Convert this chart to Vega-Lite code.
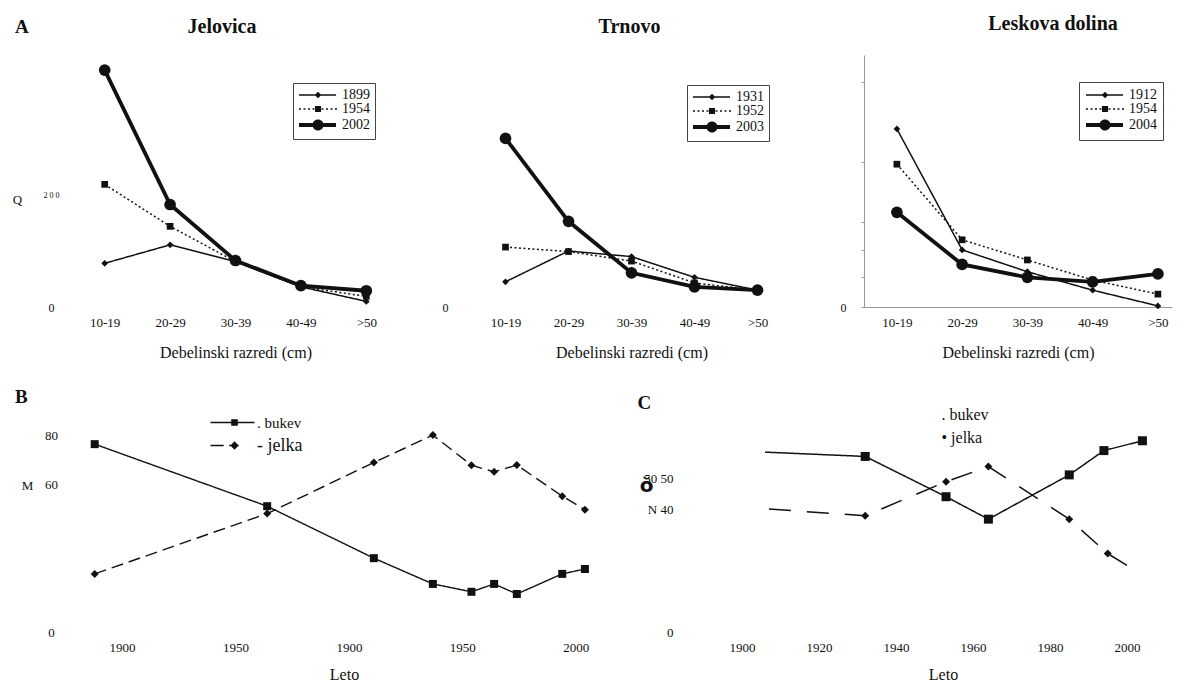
{
  "$schema": "https://vega.github.io/schema/vega-lite/v6.json",
  "background": "white",
  "padding": {"left": 12, "top": 14, "right": 5, "bottom": 2},
  "spacing": 28,
  "resolve": {"scale": {"x": "independent", "y": "independent", "strokeDash": "independent", "shape": "independent"}, "legend": {"strokeDash": "independent", "shape": "independent"}},
  "config": {
    "font": "Liberation Serif",
    "view": {"stroke": null},
    "axis": {"grid": false, "domain": false, "ticks": false, "labelFont": "Liberation Serif", "titleFont": "Liberation Serif", "labelColor": "#111", "titleColor": "#111", "titleFontWeight": "normal", "labelFontSize": 13, "titleFontSize": 16, "domainColor": "#999", "tickColor": "#999", "labelAngle": 0},
    "legend": {"labelFont": "Liberation Serif", "labelColor": "#111", "labelFontSize": 14},
    "title": {"font": "Liberation Serif", "fontSize": 20, "fontWeight": "bold", "color": "#111", "frame": "group"},
    "line": {"color": "#111"},
    "point": {"color": "#111", "filled": true, "opacity": 1}
  },
  "vconcat": [
    {
      "title": {"text": "A", "anchor": "start", "frame": "group", "dx": -57, "dy": 27, "fontSize": 19},
      "bounds": "flush",
      "spacing": 75,
      "resolve": {"scale": {"x": "independent", "y": "independent", "strokeDash": "independent", "shape": "independent"}, "legend": {"strokeDash": "independent", "shape": "independent"}},
      "hconcat": [
        {
          "width": 327, "height": 252,
          "title": {"text": "Jelovica", "anchor": "middle", "dx": -13.5, "offset": 18},
          "data": {"values": [
            {"razred": "10-19", "series": "1899", "N": 78},
            {"razred": "20-29", "series": "1899", "N": 111},
            {"razred": "30-39", "series": "1899", "N": 81},
            {"razred": "40-49", "series": "1899", "N": 36},
            {"razred": ">50", "series": "1899", "N": 10},
            {"razred": "10-19", "series": "1954", "N": 219},
            {"razred": "20-29", "series": "1954", "N": 144},
            {"razred": "30-39", "series": "1954", "N": 81},
            {"razred": "40-49", "series": "1954", "N": 36},
            {"razred": ">50", "series": "1954", "N": 19},
            {"razred": "10-19", "series": "2002", "N": 423},
            {"razred": "20-29", "series": "2002", "N": 183},
            {"razred": "30-39", "series": "2002", "N": 83},
            {"razred": "40-49", "series": "2002", "N": 38},
            {"razred": ">50", "series": "2002", "N": 29}
          ]},
          "encoding": {
            "x": {"field": "razred", "type": "ordinal", "sort": ["10-19", "20-29", "30-39", "40-49", ">50"], "scale": {"type": "point", "padding": 0.5},
                  "axis": {"title": "Debelinski razredi (cm)", "labelPadding": 9, "titlePadding": 15}},
            "y": {"field": "N", "type": "quantitative", "scale": {"domain": [0, 450], "nice": false},
                  "axis": {"values": [0, 200], "labelExpr": "datum.value == 200 ? '2 0 0' : '0'", "labelFontSize": {"condition": {"test": "datum.value == 200", "value": 8}, "value": 12}, "labelAlign": "center", "labelPadding": 21,
                           "title": "Q", "titleAngle": 0, "titleX": -55, "titleY": 144, "titleFontSize": 13, "titleBaseline": "middle", "titleAlign": "center"}}
          },
          "layer": [
            {"transform": [{"filter": "datum.series != '2002'"}], "mark": {"type": "line", "strokeWidth": 1.5},
             "encoding": {"strokeDash": {"field": "series", "type": "nominal", "scale": {"domain": ["1899", "1954", "2002"], "range": [[1, 0], [2, 2.5], [1, 0]]},
               "legend": {"orient": "none", "legendX": 221, "legendY": 28, "title": null, "strokeColor": "#444", "fillColor": "white", "padding": 5, "rowPadding": 0, "symbolSize": 144, "labelOffset": 30, "labelFontSize": 14, "symbolOpacity": 1, "symbolFillColor": "#111", "symbolStrokeColor": "#111"}}}},
            {"transform": [{"filter": "datum.series == '2002'"}], "mark": {"type": "line", "strokeWidth": 3.8}, "encoding": {}},
            {"transform": [{"filter": "datum.series == '1899'"}], "mark": {"type": "point", "shape": "diamond", "size": 45}},
            {"transform": [{"filter": "datum.series == '1954'"}], "mark": {"type": "point", "shape": "square", "size": 45}},
            {"transform": [{"filter": "datum.series == '2002'"}], "mark": {"type": "point", "shape": "circle", "size": 137}},
            {"mark": {"type": "point", "filled": false, "fill": "#111", "stroke": "#111", "strokeWidth": 1.5, "opacity": 0},
             "encoding": {
               "shape": {"field": "series", "type": "nominal", "scale": {"domain": ["1899", "1954", "2002"], "range": ["M-1,-0.12L5.17,-0.12L5.17,0.12L-1,0.12ZM2.17,-0.55L2.72,0L2.17,0.55L1.62,0Z", "M-1,-0.12h0.33v0.24h-0.33ZM-0.25,-0.12h0.33v0.24h-0.33ZM0.5,-0.12h0.33v0.24h-0.33ZM1.25,-0.12h0.33v0.24h-0.33ZM2,-0.12h0.33v0.24h-0.33ZM2.75,-0.12h0.33v0.24h-0.33ZM3.5,-0.12h0.33v0.24h-0.33ZM4.25,-0.12h0.33v0.24h-0.33ZM5,-0.12h0.33v0.24h-0.33ZM1.67,-0.5L2.67,-0.5L2.67,0.5L1.67,0.5Z", "M-1,-0.32L5.17,-0.32L5.17,0.32L-1,0.32ZM1.25,0A0.92,0.92,0,1,1,3.09,0A0.92,0.92,0,1,1,1.25,0Z"]},
                 "legend": {"orient": "none", "legendX": 221, "legendY": 28, "title": null, "strokeColor": "#444", "fillColor": "white", "padding": 5, "rowPadding": 0, "symbolSize": 144, "labelOffset": 30, "labelFontSize": 14, "symbolOpacity": 1, "symbolFillColor": "#111", "symbolStrokeColor": "#111"}},
               "strokeDash": {"field": "series", "type": "nominal", "scale": {"domain": ["1899", "1954", "2002"], "range": [[1, 0], [2, 2.5], [1, 0]]},
                 "legend": {"orient": "none", "legendX": 221, "legendY": 28, "title": null, "strokeColor": "#444", "fillColor": "white", "padding": 5, "rowPadding": 0, "symbolSize": 144, "labelOffset": 30, "labelFontSize": 14, "symbolOpacity": 1, "symbolFillColor": "#111", "symbolStrokeColor": "#111"}}}}
          ]
        },
        {
          "width": 315, "height": 252,
          "title": {"text": "Trnovo", "anchor": "middle", "dx": -2, "offset": 18},
          "data": {"values": [
            {"razred": "10-19", "series": "1931", "N": 45},
            {"razred": "20-29", "series": "1931", "N": 100},
            {"razred": "30-39", "series": "1931", "N": 90},
            {"razred": "40-49", "series": "1931", "N": 53},
            {"razred": ">50", "series": "1931", "N": 30},
            {"razred": "10-19", "series": "1952", "N": 107},
            {"razred": "20-29", "series": "1952", "N": 99},
            {"razred": "30-39", "series": "1952", "N": 82},
            {"razred": "40-49", "series": "1952", "N": 43},
            {"razred": ">50", "series": "1952", "N": 30},
            {"razred": "10-19", "series": "2003", "N": 301},
            {"razred": "20-29", "series": "2003", "N": 153},
            {"razred": "30-39", "series": "2003", "N": 61},
            {"razred": "40-49", "series": "2003", "N": 36},
            {"razred": ">50", "series": "2003", "N": 30}
          ]},
          "encoding": {
            "x": {"field": "razred", "type": "ordinal", "sort": ["10-19", "20-29", "30-39", "40-49", ">50"], "scale": {"type": "point", "padding": 0.5},
                  "axis": {"title": "Debelinski razredi (cm)", "labelPadding": 9, "titlePadding": 15}},
            "y": {"field": "N", "type": "quantitative", "scale": {"domain": [0, 450], "nice": false},
                  "axis": {"values": [0], "labelAlign": "center", "labelPadding": 29, "labelFontSize": 12, "title": null}}
          },
          "layer": [
            {"transform": [{"filter": "datum.series != '2003'"}], "mark": {"type": "line", "strokeWidth": 1.5},
             "encoding": {"strokeDash": {"field": "series", "type": "nominal", "scale": {"domain": ["1931", "1952", "2003"], "range": [[1, 0], [2, 2.5], [1, 0]]},
               "legend": {"orient": "none", "legendX": 213, "legendY": 30, "title": null, "strokeColor": "#444", "fillColor": "white", "padding": 5, "rowPadding": 0, "symbolSize": 144, "labelOffset": 30, "labelFontSize": 14, "symbolOpacity": 1, "symbolFillColor": "#111", "symbolStrokeColor": "#111"}}}},
            {"transform": [{"filter": "datum.series == '2003'"}], "mark": {"type": "line", "strokeWidth": 3.8}, "encoding": {}},
            {"transform": [{"filter": "datum.series == '1931'"}], "mark": {"type": "point", "shape": "diamond", "size": 45}},
            {"transform": [{"filter": "datum.series == '1952'"}], "mark": {"type": "point", "shape": "square", "size": 45}},
            {"transform": [{"filter": "datum.series == '2003'"}], "mark": {"type": "point", "shape": "circle", "size": 137}},
            {"mark": {"type": "point", "filled": false, "fill": "#111", "stroke": "#111", "strokeWidth": 1.5, "opacity": 0},
             "encoding": {
               "shape": {"field": "series", "type": "nominal", "scale": {"domain": ["1931", "1952", "2003"], "range": ["M-1,-0.12L5.17,-0.12L5.17,0.12L-1,0.12ZM2.17,-0.55L2.72,0L2.17,0.55L1.62,0Z", "M-1,-0.12h0.33v0.24h-0.33ZM-0.25,-0.12h0.33v0.24h-0.33ZM0.5,-0.12h0.33v0.24h-0.33ZM1.25,-0.12h0.33v0.24h-0.33ZM2,-0.12h0.33v0.24h-0.33ZM2.75,-0.12h0.33v0.24h-0.33ZM3.5,-0.12h0.33v0.24h-0.33ZM4.25,-0.12h0.33v0.24h-0.33ZM5,-0.12h0.33v0.24h-0.33ZM1.67,-0.5L2.67,-0.5L2.67,0.5L1.67,0.5Z", "M-1,-0.32L5.17,-0.32L5.17,0.32L-1,0.32ZM1.25,0A0.92,0.92,0,1,1,3.09,0A0.92,0.92,0,1,1,1.25,0Z"]},
                 "legend": {"orient": "none", "legendX": 213, "legendY": 30, "title": null, "strokeColor": "#444", "fillColor": "white", "padding": 5, "rowPadding": 0, "symbolSize": 144, "labelOffset": 30, "labelFontSize": 14, "symbolOpacity": 1, "symbolFillColor": "#111", "symbolStrokeColor": "#111"}},
               "strokeDash": {"field": "series", "type": "nominal", "scale": {"domain": ["1931", "1952", "2003"], "range": [[1, 0], [2, 2.5], [1, 0]]},
                 "legend": {"orient": "none", "legendX": 213, "legendY": 30, "title": null, "strokeColor": "#444", "fillColor": "white", "padding": 5, "rowPadding": 0, "symbolSize": 144, "labelOffset": 30, "labelFontSize": 14, "symbolOpacity": 1, "symbolFillColor": "#111", "symbolStrokeColor": "#111"}}}}
          ]
        },
        {
          "width": 308, "height": 252,
          "title": {"text": "Leskova dolina", "anchor": "middle", "dx": 35, "offset": 21},
          "data": {"values": [
            {"razred": "10-19", "series": "1912", "N": 318},
            {"razred": "20-29", "series": "1912", "N": 102},
            {"razred": "30-39", "series": "1912", "N": 63},
            {"razred": "40-49", "series": "1912", "N": 30},
            {"razred": ">50", "series": "1912", "N": 2},
            {"razred": "10-19", "series": "1954", "N": 255},
            {"razred": "20-29", "series": "1954", "N": 120},
            {"razred": "30-39", "series": "1954", "N": 84},
            {"razred": "40-49", "series": "1954", "N": 48},
            {"razred": ">50", "series": "1954", "N": 23},
            {"razred": "10-19", "series": "2004", "N": 169},
            {"razred": "20-29", "series": "2004", "N": 76},
            {"razred": "30-39", "series": "2004", "N": 53},
            {"razred": "40-49", "series": "2004", "N": 45},
            {"razred": ">50", "series": "2004", "N": 59}
          ]},
          "encoding": {
            "x": {"field": "razred", "type": "ordinal", "sort": ["10-19", "20-29", "30-39", "40-49", ">50"], "scale": {"type": "point", "padding": 0.36, "align": 0.7},
                  "axis": {"title": "Debelinski razredi (cm)", "labelPadding": 9, "titlePadding": 15, "domain": true}},
            "y": {"field": "N", "type": "quantitative", "scale": {"domain": [0, 450], "nice": false},
                  "axis": {"values": [0, 54, 102, 152, 259, 402], "labelExpr": "datum.value == 0 ? '0' : ''", "domain": true, "ticks": true, "tickSize": 3, "labelAlign": "center", "labelPadding": 18, "labelFontSize": 12, "title": null}}
          },
          "layer": [
            {"transform": [{"filter": "datum.series != '2004'"}], "mark": {"type": "line", "strokeWidth": 1.5},
             "encoding": {"strokeDash": {"field": "series", "type": "nominal", "scale": {"domain": ["1912", "1954", "2004"], "range": [[1, 0], [2, 2.5], [1, 0]]},
               "legend": {"orient": "none", "legendX": 215, "legendY": 27, "title": null, "strokeColor": "#444", "fillColor": "white", "padding": 6, "rowPadding": 0, "symbolSize": 144, "labelOffset": 30, "labelFontSize": 14, "symbolOpacity": 1, "symbolFillColor": "#111", "symbolStrokeColor": "#111"}}}},
            {"transform": [{"filter": "datum.series == '2004'"}], "mark": {"type": "line", "strokeWidth": 3.8}, "encoding": {}},
            {"transform": [{"filter": "datum.series == '1912'"}], "mark": {"type": "point", "shape": "diamond", "size": 45}},
            {"transform": [{"filter": "datum.series == '1954'"}], "mark": {"type": "point", "shape": "square", "size": 45}},
            {"transform": [{"filter": "datum.series == '2004'"}], "mark": {"type": "point", "shape": "circle", "size": 137}},
            {"mark": {"type": "point", "filled": false, "fill": "#111", "stroke": "#111", "strokeWidth": 1.5, "opacity": 0},
             "encoding": {
               "shape": {"field": "series", "type": "nominal", "scale": {"domain": ["1912", "1954", "2004"], "range": ["M-1,-0.12L5.17,-0.12L5.17,0.12L-1,0.12ZM2.17,-0.55L2.72,0L2.17,0.55L1.62,0Z", "M-1,-0.12h0.33v0.24h-0.33ZM-0.25,-0.12h0.33v0.24h-0.33ZM0.5,-0.12h0.33v0.24h-0.33ZM1.25,-0.12h0.33v0.24h-0.33ZM2,-0.12h0.33v0.24h-0.33ZM2.75,-0.12h0.33v0.24h-0.33ZM3.5,-0.12h0.33v0.24h-0.33ZM4.25,-0.12h0.33v0.24h-0.33ZM5,-0.12h0.33v0.24h-0.33ZM1.67,-0.5L2.67,-0.5L2.67,0.5L1.67,0.5Z", "M-1,-0.32L5.17,-0.32L5.17,0.32L-1,0.32ZM1.25,0A0.92,0.92,0,1,1,3.09,0A0.92,0.92,0,1,1,1.25,0Z"]},
                 "legend": {"orient": "none", "legendX": 215, "legendY": 27, "title": null, "strokeColor": "#444", "fillColor": "white", "padding": 6, "rowPadding": 0, "symbolSize": 144, "labelOffset": 30, "labelFontSize": 14, "symbolOpacity": 1, "symbolFillColor": "#111", "symbolStrokeColor": "#111"}},
               "strokeDash": {"field": "series", "type": "nominal", "scale": {"domain": ["1912", "1954", "2004"], "range": [[1, 0], [2, 2.5], [1, 0]]},
                 "legend": {"orient": "none", "legendX": 215, "legendY": 27, "title": null, "strokeColor": "#444", "fillColor": "white", "padding": 6, "rowPadding": 0, "symbolSize": 144, "labelOffset": 30, "labelFontSize": 14, "symbolOpacity": 1, "symbolFillColor": "#111", "symbolStrokeColor": "#111"}}}}
          ]
        }
      ]
    },
    {
      "bounds": "flush",
      "spacing": 109.5,
      "resolve": {"scale": {"x": "independent", "y": "independent", "strokeDash": "independent", "shape": "independent"}, "legend": {"strokeDash": "independent", "shape": "independent"}},
      "hconcat": [
        {
          "width": 522, "height": 206,
          "title": {"text": "B", "anchor": "start", "frame": "group", "dx": -57, "dy": 6, "offset": 14, "fontSize": 19},
          "data": {"values": [
            {"vrsta": "bukev", "Leto": 1788, "delez": 76.6},
            {"vrsta": "bukev", "Leto": 1864, "delez": 51.3},
            {"vrsta": "bukev", "Leto": 1911, "delez": 30.1},
            {"vrsta": "bukev", "Leto": 1937, "delez": 19.6},
            {"vrsta": "bukev", "Leto": 1954, "delez": 16.4},
            {"vrsta": "bukev", "Leto": 1964, "delez": 19.6},
            {"vrsta": "bukev", "Leto": 1974, "delez": 15.5},
            {"vrsta": "bukev", "Leto": 1994, "delez": 23.7},
            {"vrsta": "bukev", "Leto": 2004, "delez": 25.7},
            {"vrsta": "jelka", "Leto": 1788, "delez": 23.7},
            {"vrsta": "jelka", "Leto": 1864, "delez": 48.3},
            {"vrsta": "jelka", "Leto": 1911, "delez": 69.1},
            {"vrsta": "jelka", "Leto": 1937, "delez": 80.3},
            {"vrsta": "jelka", "Leto": 1954, "delez": 68.0},
            {"vrsta": "jelka", "Leto": 1964, "delez": 65.3},
            {"vrsta": "jelka", "Leto": 1974, "delez": 68.1},
            {"vrsta": "jelka", "Leto": 1994, "delez": 55.4},
            {"vrsta": "jelka", "Leto": 2004, "delez": 49.9}
          ]},
          "encoding": {
            "x": {"field": "Leto", "type": "quantitative", "scale": {"domain": [1778, 2008], "nice": false, "zero": false},
                  "axis": {"values": [1800, 1850, 1900, 1950, 2000], "labelExpr": "datum.value == 1800 ? '1900' : datum.value == 1850 ? '1950' : datum.value == 1900 ? '1900' : datum.value == 1950 ? '1950' : '2000'", "labelPadding": 9, "title": "Leto", "titleFontSize": 16, "titlePadding": 12, "titleX": 272}},
            "y": {"field": "delez", "type": "quantitative", "scale": {"domain": [0, 84], "nice": false},
                  "axis": {"values": [0, 60, 80], "labelAlign": "center", "labelPadding": 21, "title": "M", "titleAngle": 0, "titleX": -45, "titleY": 59, "titleFontSize": 13, "titleBaseline": "middle", "titleAlign": "center"}}
          },
          "layer": [
            {"mark": {"type": "line", "strokeWidth": 1.4},
             "encoding": {"strokeDash": {"field": "vrsta", "type": "nominal", "scale": {"domain": ["bukev", "jelka"], "range": [[1, 0], [12, 6]]},
               "legend": {"orient": "none", "legendX": 137, "legendY": -11, "title": null, "padding": 0, "rowPadding": 5, "symbolSize": 144, "labelOffset": 33, "labelFontSize": {"expr": "datum.value === 'jelka' ? 18 : 15"}, "symbolOpacity": 1, "symbolFillColor": "#111", "symbolStrokeColor": "#111",
                 "labelExpr": "datum.label == 'bukev' ? '. bukev' : '- jelka'"}}}},
            {"transform": [{"filter": "datum.vrsta == 'bukev'"}], "mark": {"type": "point", "shape": "square", "size": 64}},
            {"transform": [{"filter": "datum.vrsta == 'jelka'"}], "mark": {"type": "point", "shape": "diamond", "size": 64}},
            {"mark": {"type": "point", "filled": false, "fill": "#111", "stroke": "#111", "strokeWidth": 1.4, "opacity": 0},
             "encoding": {
               "shape": {"field": "vrsta", "type": "nominal", "scale": {"domain": ["bukev", "jelka"], "range": ["M-1,-0.12L6.33,-0.12L6.33,0.12L-1,0.12ZM2.45,-0.55L3.55,-0.55L3.55,0.55L2.45,0.55Z", "M-1,-0.13L1.2,-0.13L1.2,0.13L-1,0.13ZM2.1,-0.13L3.7,-0.13L3.7,0.13L2.1,0.13ZM3,-0.7L3.7,0L3,0.7L2.3,0Z"]},
                 "legend": {"orient": "none", "legendX": 137, "legendY": -11, "title": null, "padding": 0, "rowPadding": 5, "symbolSize": 144, "labelOffset": 33, "labelFontSize": {"expr": "datum.value === 'jelka' ? 18 : 15"}, "symbolOpacity": 1, "symbolFillColor": "#111", "symbolStrokeColor": "#111",
                   "labelExpr": "datum.label == 'bukev' ? '. bukev' : '- jelka'"}},
               "strokeDash": {"field": "vrsta", "type": "nominal", "scale": {"domain": ["bukev", "jelka"], "range": [[1, 0], [12, 6]]},
                 "legend": {"orient": "none", "legendX": 137, "legendY": -11, "title": null, "padding": 0, "rowPadding": 5, "symbolSize": 144, "labelOffset": 33, "labelFontSize": {"expr": "datum.value === 'jelka' ? 18 : 15"}, "symbolOpacity": 1, "symbolFillColor": "#111", "symbolStrokeColor": "#111",
                   "labelExpr": "datum.label == 'bukev' ? '. bukev' : '- jelka'"}}}}
          ]
        },
        {
          "width": 462, "height": 206,
          "title": {"text": "C", "anchor": "start", "frame": "group", "dx": -66, "dy": 20, "offset": 14, "fontSize": 19},
          "data": {"values": [
            {"vrsta": "bukev", "Leto": 1906, "delez": 58.5},
            {"vrsta": "bukev", "Leto": 1932, "delez": 57.1},
            {"vrsta": "bukev", "Leto": 1953, "delez": 44.0},
            {"vrsta": "bukev", "Leto": 1964, "delez": 36.7},
            {"vrsta": "bukev", "Leto": 1985, "delez": 51.1},
            {"vrsta": "bukev", "Leto": 1994, "delez": 59.0},
            {"vrsta": "bukev", "Leto": 2004, "delez": 62.2},
            {"vrsta": "jelka", "Leto": 1907, "delez": 40.0},
            {"vrsta": "jelka", "Leto": 1932, "delez": 37.8},
            {"vrsta": "jelka", "Leto": 1953, "delez": 48.9},
            {"vrsta": "jelka", "Leto": 1964, "delez": 53.8},
            {"vrsta": "jelka", "Leto": 1985, "delez": 36.7},
            {"vrsta": "jelka", "Leto": 1995, "delez": 25.5},
            {"vrsta": "jelka", "Leto": 2000, "delez": 21.7}
          ]},
          "encoding": {
            "x": {"field": "Leto", "type": "quantitative", "scale": {"domain": [1890, 2010], "nice": false, "zero": false},
                  "axis": {"values": [1900, 1920, 1940, 1960, 1980, 2000], "format": "d", "labelPadding": 9, "title": "Leto", "titleFontSize": 16, "titlePadding": 12, "titleX": 239.5}},
            "y": {"field": "delez", "type": "quantitative", "scale": {"domain": [0, 67], "nice": false},
                  "axis": {"values": [0, 40, 50], "labelExpr": "datum.value == 50 ? '50  50' : datum.value == 40 ? 'N    40' : '0'", "labelAlign": "right", "labelPadding": 30.5,
                           "title": "ŏ", "titleFont": "DejaVu Sans", "titleFontWeight": "bold", "titleFontSize": 20, "titleAngle": 0, "titleX": -57.5, "titleY": 59, "titleBaseline": "middle", "titleAlign": "center"}}
          },
          "layer": [
            {"mark": {"type": "line", "strokeWidth": 1.5},
             "encoding": {"strokeDash": {"field": "vrsta", "type": "nominal", "scale": {"domain": ["bukev", "jelka"], "range": [[1, 0], [22, 16]]},
               "legend": {"orient": "none", "legendX": 222, "legendY": -19, "title": null, "padding": 0, "rowPadding": 7, "symbolSize": 1, "symbolOpacity": 0, "labelOffset": 0, "labelFontSize": 16,
                 "labelExpr": "datum.label == 'bukev' ? '. bukev' : '• jelka'"}}}},
            {"transform": [{"filter": "datum.vrsta == 'bukev' && datum.Leto >= 1930"}], "mark": {"type": "point", "shape": "square", "size": 81}},
            {"transform": [{"filter": "datum.vrsta == 'jelka' && datum.Leto >= 1930 && datum.Leto <= 1996"}], "mark": {"type": "point", "shape": "diamond", "size": 64}}
          ]
        }
      ]
    }
  ]
}
